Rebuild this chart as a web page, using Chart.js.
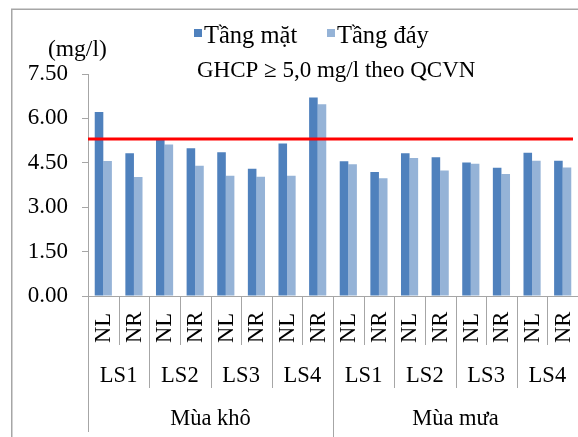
<!DOCTYPE html>
<html>
<head>
<meta charset="utf-8">
<script src="https://cdn.jsdelivr.net/npm/chart.js@4.4.0/dist/chart.umd.min.js"></script>
<style>
html,body{margin:0;padding:0;background:#fff;}
canvas{display:block;}
</style>
</head>
<body>
<canvas id="c" width="578" height="437"></canvas>
<script>
// ---- data ----
const positions = ['NL','NR','NL','NR','NL','NR','NL','NR','NL','NR','NL','NR','NL','NR','NL','NR'];
const stations = ['LS1','LS2','LS3','LS4','LS1','LS2','LS3','LS4'];
const seasons = ['Mùa khô','Mùa mưa'];
const surfaceDO = [6.22,4.82,5.27,4.99,4.86,4.30,5.15,6.71,4.55,4.19,4.82,4.69,4.51,4.33,4.84,4.57];
const bottomDO  = [4.56,4.02,5.12,4.40,4.06,4.03,4.06,6.48,4.45,3.98,4.66,4.24,4.47,4.12,4.57,4.34];
const yTicks = [0, 1.5, 3, 4.5, 6, 7.5];
const threshold = 5.3;
const seriesNames = ['Tầng mặt','Tầng đáy'];
const unitLabel = '(mg/l)';
const noteLabel = 'GHCP ≥ 5,0 mg/l theo QCVN';

const FONT = "'Liberation Serif','Times New Roman',serif";
const GRID = '#a6a6a6';

const decor = {
  id: 'decor',
  beforeDraw(chart) {
    const ctx = chart.ctx;
    ctx.save();
    ctx.fillStyle = '#fff';
    ctx.fillRect(0, 0, chart.width, chart.height);
    ctx.strokeStyle = GRID;
    ctx.lineWidth = 1.5;
    ctx.strokeRect(11.75, 9.25, 700, 600);
    ctx.restore();
  },
  afterDraw(chart) {
    const ctx = chart.ctx;
    const x = chart.scales.x, y = chart.scales.y;
    const area = chart.chartArea;
    const n = positions.length;
    const step = x.getPixelForValue(1) - x.getPixelForValue(0);
    const edge = i => x.getPixelForValue(i) - step / 2;
    const y0 = area.bottom;
    ctx.save();
    // threshold line
    const ty = y.getPixelForValue(threshold);
    ctx.strokeStyle = '#ff0000';
    ctx.lineWidth = 3;
    ctx.beginPath();
    ctx.moveTo(area.left, ty);
    ctx.lineTo(area.right - 5, ty);
    ctx.stroke();
    // separators
    ctx.strokeStyle = GRID;
    ctx.lineWidth = 1;
    for (let i = 0; i <= n; i++) {
      let yb = 345;
      if (i % 2 === 0) yb = 388;
      if (i % 8 === 0) yb = (i === 0) ? 432 : 440;
      const px = Math.round(edge(i)) + 0.5;
      ctx.beginPath();
      ctx.moveTo(px, y0);
      ctx.lineTo(px, yb);
      ctx.stroke();
    }
    ctx.fillStyle = '#000';
    ctx.font = '22.5px ' + FONT;
    // level 1 rotated labels
    for (let i = 0; i < n; i++) {
      ctx.save();
      ctx.translate(x.getPixelForValue(i) + 1, 343);
      ctx.rotate(-Math.PI / 2);
      ctx.textAlign = 'left';
      ctx.textBaseline = 'middle';
      ctx.fillText(positions[i], 0, 0);
      ctx.restore();
    }
    // level 2
    ctx.textAlign = 'center';
    ctx.textBaseline = 'middle';
    stations.forEach((s, k) => {
      const cx = (edge(2 * k) + edge(2 * k + 2)) / 2;
      ctx.fillText(s, cx, 376);
    });
    // level 3
    seasons.forEach((s, k) => {
      const cx = (edge(8 * k) + edge(8 * k + 8)) / 2;
      ctx.fillText(s, cx, 419);
    });
    // unit label
    ctx.font = '23.5px ' + FONT;
    ctx.textAlign = 'left';
    ctx.textBaseline = 'alphabetic';
    ctx.fillText(unitLabel, 48, 56);
    // legend
    ctx.font = '24.5px ' + FONT;
    const ds = chart.data.datasets;
    const legendX = [194, 327];
    ds.forEach((d, k) => {
      ctx.fillStyle = d.backgroundColor;
      ctx.fillRect(legendX[k], 29, 8, 8);
      ctx.fillStyle = '#000';
      ctx.fillText(d.label, legendX[k] + 10, 43);
    });
    // note
    ctx.font = '23px ' + FONT;
    ctx.textAlign = 'left';
    ctx.fillText(noteLabel, 197, 77);
    ctx.restore();
  }
};

new Chart(document.getElementById('c'), {
  type: 'bar',
  data: {
    labels: positions,
    datasets: [
      { label: seriesNames[0], data: surfaceDO, backgroundColor: '#4f81bd', categoryPercentage: 0.56, barPercentage: 1.0 },
      { label: seriesNames[1], data: bottomDO, backgroundColor: '#95b3d7', categoryPercentage: 0.56, barPercentage: 1.0 }
    ]
  },
  options: {
    responsive: false,
    animation: false,
    devicePixelRatio: 1,
    layout: { padding: { top: 74, bottom: 141, left: 0, right: 0 } },
    plugins: { legend: { display: false }, tooltip: { enabled: false }, title: { display: false } },
    scales: {
      x: {
        grid: { display: false, drawTicks: false },
        border: { display: true, color: GRID, width: 1 },
        ticks: { display: false },
        afterFit(s) { s.height = 0; }
      },
      y: {
        min: 0, max: 7.5,
        afterFit(s) { s.width = 88; },
        afterBuildTicks(s) { s.ticks = yTicks.map(v => ({ value: v })); },
        grid: { drawOnChartArea: false, drawTicks: true, tickLength: 6, color: GRID },
        border: { display: true, color: GRID, width: 1 },
        ticks: {
          color: '#000',
          padding: 14,
          font: { family: FONT, size: 23 },
          callback: v => Number(v).toFixed(2)
        }
      }
    }
  },
  plugins: [decor]
});
</script>
</body>
</html>
